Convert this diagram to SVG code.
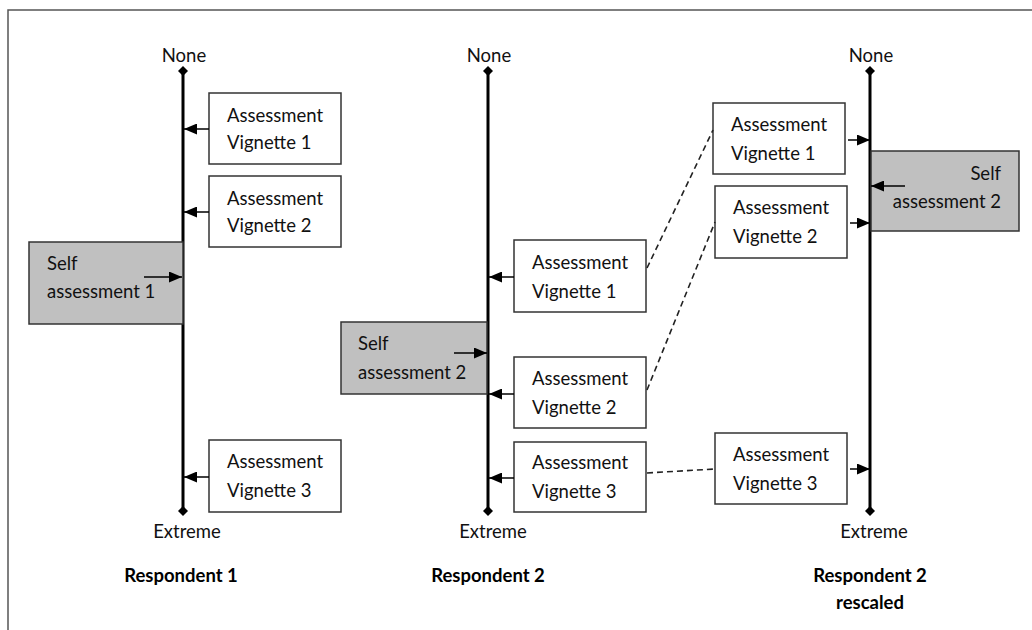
<svg xmlns="http://www.w3.org/2000/svg" width="1032" height="630" viewBox="0 0 1032 630">
  <style>
    .frame { fill: none; stroke: #555; stroke-width: 1.5; }
    .axis { stroke: #000; stroke-width: 3; fill: none; }
    .box { fill: #fff; stroke: #333; stroke-width: 1.5; }
    .self { fill: #c0c0c0; stroke: #333; stroke-width: 1.5; }
    .lbl { font-family: Lato, "Liberation Sans", sans-serif; font-size: 18.5px; fill: #111; }
    .end { font-family: Lato, "Liberation Sans", sans-serif; font-size: 18.5px; fill: #111; text-anchor: middle; }
    .title { font-family: Lato, "Liberation Sans", sans-serif; font-size: 18.5px; font-weight: bold; fill: #000; text-anchor: middle; }
    .ptr { stroke: #000; stroke-width: 1.5; fill: none; marker-end: url(#head); }
    .link { stroke: #222; stroke-width: 1.6; fill: none; stroke-dasharray: 6 4; }
  </style>
  <defs>
    <marker id="head" markerUnits="userSpaceOnUse" markerWidth="13" markerHeight="11" refX="13" refY="5.5" orient="auto">
      <path d="M0,0 L13,5.5 L0,11 z" fill="#000"/>
    </marker>
    <path id="dia" d="M0,-5 L5,0 L0,5 L-5,0 z" fill="#000"/>
  </defs>

  <rect class="frame" x="8" y="10" width="1040" height="640"/>

  <!-- Respondent 1 scale -->
  <g id="scale-r1">
    <line class="axis" x1="183" y1="71" x2="183" y2="511"/>
    <use href="#dia" x="183" y="71"/>
    <use href="#dia" x="183" y="511"/>
    <text class="end" x="184" y="62">None</text>
    <text class="end" x="187" y="538">Extreme</text>
    <text class="title" x="181" y="582">Respondent 1</text>
  </g>
  <g id="r1-av1">
    <rect class="box" x="209" y="93" width="132" height="71"/>
    <text class="lbl" x="227" y="122">Assessment</text>
    <text class="lbl" x="227" y="149">Vignette 1</text>
  </g>
  <g id="r1-av2">
    <rect class="box" x="209" y="176" width="132" height="71"/>
    <text class="lbl" x="227" y="205">Assessment</text>
    <text class="lbl" x="227" y="232">Vignette 2</text>
  </g>
  <g id="r1-self">
    <rect class="self" x="29" y="242" width="154" height="82"/>
    <text class="lbl" x="47" y="270">Self</text>
    <text class="lbl" x="47" y="298">assessment 1</text>
  </g>
  <g id="r1-av3">
    <rect class="box" x="209" y="440" width="132" height="72"/>
    <text class="lbl" x="227" y="468">Assessment</text>
    <text class="lbl" x="227" y="497">Vignette 3</text>
  </g>

  <!-- Respondent 2 scale -->
  <g id="scale-r2">
    <line class="axis" x1="488" y1="71" x2="488" y2="511"/>
    <use href="#dia" x="488" y="71"/>
    <use href="#dia" x="488" y="511"/>
    <text class="end" x="489" y="62">None</text>
    <text class="end" x="493" y="538">Extreme</text>
    <text class="title" x="488" y="582">Respondent 2</text>
  </g>
  <g id="r2-av1">
    <rect class="box" x="514" y="240" width="132" height="72"/>
    <text class="lbl" x="532" y="269">Assessment</text>
    <text class="lbl" x="532" y="298">Vignette 1</text>
  </g>
  <g id="r2-self">
    <rect class="self" x="341" y="322" width="146" height="72"/>
    <text class="lbl" x="358" y="350">Self</text>
    <text class="lbl" x="358" y="379">assessment 2</text>
  </g>
  <g id="r2-av2">
    <rect class="box" x="514" y="357" width="132" height="71"/>
    <text class="lbl" x="532" y="385">Assessment</text>
    <text class="lbl" x="532" y="414">Vignette 2</text>
  </g>
  <g id="r2-av3">
    <rect class="box" x="514" y="442" width="132" height="70"/>
    <text class="lbl" x="532" y="469">Assessment</text>
    <text class="lbl" x="532" y="498">Vignette 3</text>
  </g>

  <!-- Respondent 2 rescaled -->
  <g id="scale-r2-rescaled">
    <line class="axis" x1="870" y1="71" x2="870" y2="511"/>
    <use href="#dia" x="870" y="71"/>
    <use href="#dia" x="870" y="511"/>
    <text class="end" x="871" y="62">None</text>
    <text class="end" x="874" y="538">Extreme</text>
    <text class="title" x="870" y="582">Respondent 2</text>
    <text class="title" x="870" y="609">rescaled</text>
  </g>
  <g id="rs-av1">
    <rect class="box" x="713" y="103" width="132" height="71"/>
    <text class="lbl" x="731" y="131">Assessment</text>
    <text class="lbl" x="731" y="160">Vignette 1</text>
  </g>
  <g id="rs-self">
    <rect class="self" x="871" y="151" width="148" height="80"/>
    <text class="lbl" x="1001" y="180" text-anchor="end">Self</text>
    <text class="lbl" x="1001" y="208" text-anchor="end">assessment 2</text>
  </g>
  <g id="rs-av2">
    <rect class="box" x="715" y="186" width="132" height="72"/>
    <text class="lbl" x="733" y="214">Assessment</text>
    <text class="lbl" x="733" y="243">Vignette 2</text>
  </g>
  <g id="rs-av3">
    <rect class="box" x="715" y="433" width="132" height="71"/>
    <text class="lbl" x="733" y="461">Assessment</text>
    <text class="lbl" x="733" y="490">Vignette 3</text>
  </g>

  <!-- pointers onto the scales and dashed correspondences -->
  <g id="connectors">
    <line class="ptr" x1="209" y1="129" x2="184" y2="129"/>
    <line class="ptr" x1="209" y1="212" x2="184" y2="212"/>
    <line class="ptr" x1="144" y1="277" x2="182" y2="277"/>
    <line class="ptr" x1="209" y1="477" x2="184" y2="477"/>

    <line class="ptr" x1="514" y1="277" x2="489" y2="277"/>
    <line class="ptr" x1="454" y1="353" x2="487" y2="353"/>
    <line class="ptr" x1="514" y1="394" x2="489" y2="394"/>
    <line class="ptr" x1="514" y1="478" x2="489" y2="478"/>

    <line class="ptr" x1="848" y1="140" x2="870" y2="140"/>
    <line class="ptr" x1="905" y1="186" x2="871" y2="186"/>
    <line class="ptr" x1="850" y1="223" x2="870" y2="223"/>
    <line class="ptr" x1="850" y1="469" x2="870" y2="469"/>

    <line class="link" x1="647" y1="268" x2="713" y2="130"/>
    <line class="link" x1="647" y1="390" x2="715" y2="222"/>
    <line class="link" x1="647" y1="473" x2="715" y2="469"/>
  </g>
</svg>
